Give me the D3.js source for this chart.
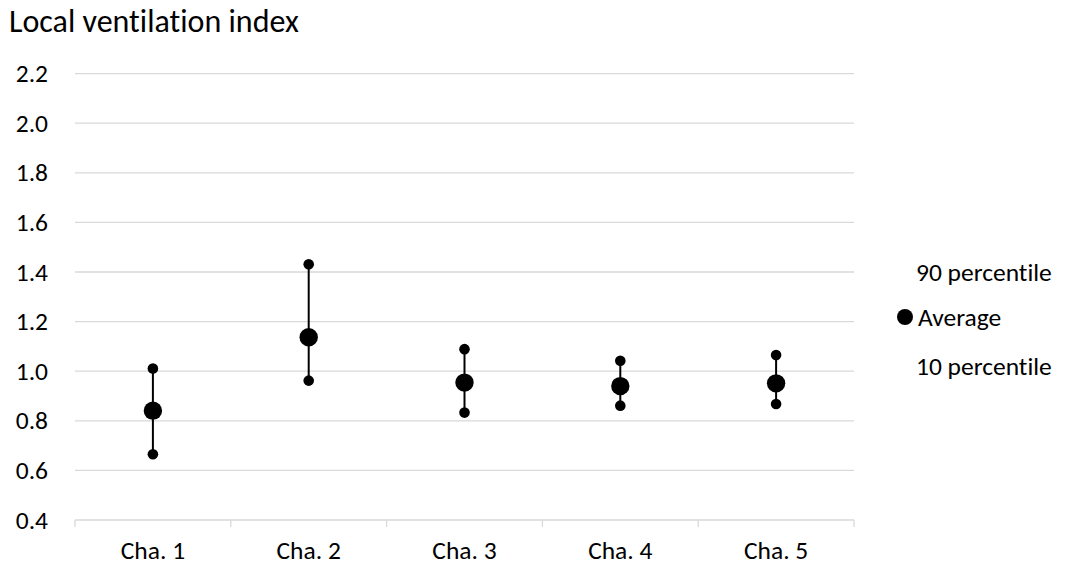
<!DOCTYPE html>
<html>
<head>
<meta charset="utf-8">
<script src="https://cdn.jsdelivr.net/npm/d3@7"></script>
<style>
  html, body { margin: 0; padding: 0; background: #fff; }
  svg { display: block; font-family: Carlito, "Open Sans", sans-serif; font-variant-ligatures: none; }
</style>
</head>
<body>
<svg id="chart" width="1071" height="566"></svg>
<script>
// Local ventilation index per channel: 10th percentile, average, 90th percentile
const categories = ["Cha. 1", "Cha. 2", "Cha. 3", "Cha. 4", "Cha. 5"];
const p90 = [1.011, 1.431, 1.089, 1.042, 1.065];
const average = [0.841, 1.137, 0.954, 0.940, 0.951];
const p10 = [0.665, 0.962, 0.833, 0.861, 0.868];
const yTicks = [0.4, 0.6, 0.8, 1.0, 1.2, 1.4, 1.6, 1.8, 2.0, 2.2];
const legendLabels = ["90 percentile", "Average", "10 percentile"];

const svg = d3.select("#chart");
const plotLeft = 75, plotRight = 854, plotTop = 73.6, plotBottom = 520;

const x = d3.scaleBand().domain(categories).range([plotLeft, plotRight]).padding(0);
const y = d3.scaleLinear().domain([0.4, 2.2]).range([plotBottom, plotTop]);

const gridColor = "#d9d9d9";
const textColor = "#000";
const fontFamily = "Carlito, 'Open Sans', sans-serif";
const labelSize = 25.5;

// Title
svg.append("text")
  .attr("x", 9).attr("y", 32.3)
  .attr("font-size", 32)
  .attr("fill", textColor)
  .text("Local ventilation index");

// Horizontal gridlines
svg.append("g")
  .selectAll("line")
  .data(yTicks.slice(1))
  .join("line")
  .attr("x1", plotLeft).attr("x2", plotRight)
  .attr("y1", d => y(d)).attr("y2", d => y(d))
  .attr("stroke", gridColor).attr("stroke-width", 1.3);

// Y axis labels
const yAxis = d3.axisLeft(y).tickValues(yTicks).tickFormat(d3.format(".1f")).tickSize(0).tickPadding(27);
const yg = svg.append("g").attr("transform", `translate(${plotLeft},0)`).call(yAxis);
yg.select(".domain").remove();
yg.selectAll("text").attr("font-size", labelSize).attr("fill", textColor).attr("font-family", fontFamily);

// X axis with ticks at category boundaries
svg.append("line")
  .attr("x1", plotLeft).attr("x2", plotRight)
  .attr("y1", plotBottom).attr("y2", plotBottom)
  .attr("stroke", gridColor).attr("stroke-width", 1.3);
const boundaries = categories.map(c => x(c)).concat([x(categories[categories.length - 1]) + x.bandwidth()]);
svg.append("g")
  .selectAll("line")
  .data(boundaries)
  .join("line")
  .attr("x1", d => d).attr("x2", d => d)
  .attr("y1", plotBottom).attr("y2", plotBottom + 7)
  .attr("stroke", gridColor).attr("stroke-width", 1.3);
const xAxis = d3.axisBottom(x).tickSize(0).tickPadding(20.5);
const xg = svg.append("g").attr("transform", `translate(0,${plotBottom})`).call(xAxis);
xg.select(".domain").remove();
xg.selectAll("text").attr("font-size", labelSize).attr("fill", textColor).attr("font-family", fontFamily);

// Range lines and markers
const rows = categories.map((c, i) => ({ c, hi: p90[i], avg: average[i], lo: p10[i] }));
const cx = d => x(d.c) + x.bandwidth() / 2;
const marks = svg.append("g");
marks.selectAll("line.range")
  .data(rows)
  .join("line")
  .attr("class", "range")
  .attr("x1", cx).attr("x2", cx)
  .attr("y1", d => y(d.hi)).attr("y2", d => y(d.lo))
  .attr("stroke", "#000").attr("stroke-width", 2);
marks.selectAll("circle.hi")
  .data(rows).join("circle").attr("class", "hi")
  .attr("cx", cx).attr("cy", d => y(d.hi)).attr("r", 5.3).attr("fill", "#000");
marks.selectAll("circle.lo")
  .data(rows).join("circle").attr("class", "lo")
  .attr("cx", cx).attr("cy", d => y(d.lo)).attr("r", 5.3).attr("fill", "#000");
marks.selectAll("circle.avg")
  .data(rows).join("circle").attr("class", "avg")
  .attr("cx", cx).attr("cy", d => y(d.avg)).attr("r", 9.2).attr("fill", "#000");

// Legend
const legend = svg.append("g");
const legendY = [272, 317, 366];
legend.selectAll("text")
  .data(legendLabels)
  .join("text")
  .attr("x", (d, i) => i === 1 ? 918 : 916).attr("y", (d, i) => legendY[i])
  .attr("dy", "0.35em")
  .attr("font-size", labelSize).attr("fill", textColor)
  .text(d => d);
legend.append("circle")
  .attr("cx", 905).attr("cy", legendY[1]).attr("r", 8).attr("fill", "#000");
</script>
</body>
</html>
